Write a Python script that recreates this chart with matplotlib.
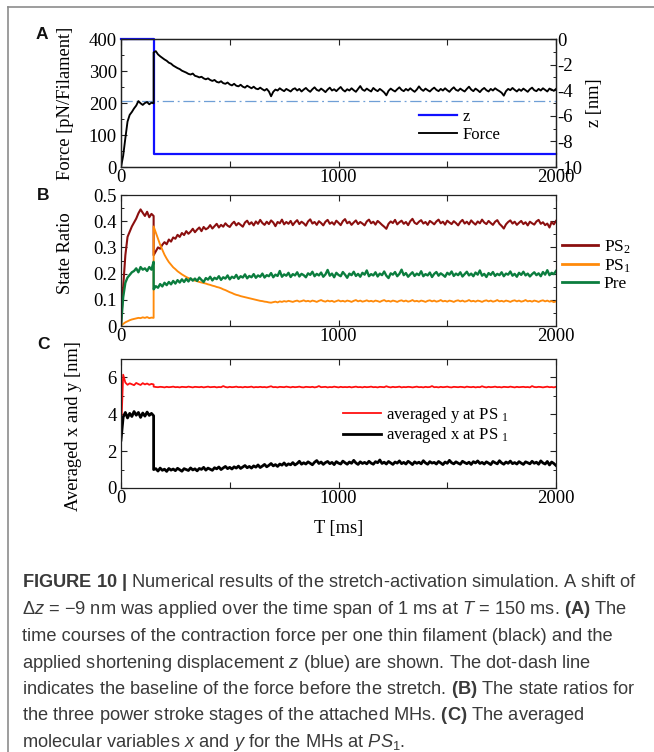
import numpy as np
import matplotlib
matplotlib.use("Agg")
import matplotlib.pyplot as plt
from matplotlib.lines import Line2D

plt.rcParams['font.family'] = ['Liberation Serif', 'DejaVu Serif']
plt.rcParams['axes.unicode_minus'] = False
plt.rcParams['mathtext.fontset'] = 'custom'
plt.rcParams['mathtext.rm'] = 'Liberation Serif'
plt.rcParams['mathtext.it'] = 'Liberation Sans:italic'
plt.rcParams['mathtext.bf'] = 'Liberation Sans:bold'
plt.rcParams['mathtext.sf'] = 'Liberation Sans'

# ---------------- data ----------------
T_PRE = np.arange(0, 151, 10)      # samples before the stretch (ms)
T_POST = np.arange(150, 2001, 10)  # samples after the stretch (ms)

force_pre = [0, 35, 90, 142, 163, 172, 183, 192, 206, 199, 194, 200, 203, 196, 201, 199]
force_post = [358, 362, 352, 346, 341, 336, 332, 326, 323, 317,
              313, 309, 306, 301, 298, 295, 291, 289, 292, 285,
              283, 280, 282, 277, 274, 277, 272, 269, 272, 266,
              264, 268, 262, 260, 264, 258, 255, 260, 254, 252,
              257, 251, 248, 254, 250, 246, 251, 245, 243, 248,
              243, 239, 244, 236, 221, 235, 242, 239, 246, 241,
              237, 244, 240, 236, 243, 246,
              239, 244, 236, 242, 247, 240, 235, 243, 249, 241,
              238, 245, 240, 234, 242, 248, 239, 243, 237, 244,
              250, 241, 236, 243, 239, 246, 240, 235, 244, 253,
              242, 238, 245, 240, 236, 247, 241, 237, 244, 239,
              233, 224, 238, 245, 240, 236, 243, 249, 241, 237,
              244, 239, 246, 240, 235, 242, 252, 243, 238, 245,
              240, 236, 243, 248, 241, 237, 244, 239, 246, 240,
              235, 243, 249, 241, 238, 245, 240, 236, 244, 251,
              242, 237, 245, 240, 234, 242, 247, 240, 236, 244,
              239, 246, 241, 237, 232, 223, 237, 244, 240, 247,
              241, 236, 243, 238, 245, 240, 235, 243, 248, 240,
              237, 244, 239, 246, 241, 236, 245, 242, 238, 244]
force_baseline = 205
z_T = [0, 150, 150, 2000]
z_val = [0, 0, -9, -9]

ps2_pre = [0, 0.15, 0.27, 0.34, 0.36, 0.38, 0.395, 0.41, 0.43, 0.445, 0.432, 0.42, 0.436, 0.415, 0.428, 0.42]
ps2_post = [0.27, 0.285, 0.30, 0.295, 0.31, 0.32, 0.312, 0.33, 0.322, 0.338,
            0.333, 0.348, 0.34, 0.355, 0.347, 0.362, 0.352, 0.36, 0.371, 0.358,
            0.368, 0.376, 0.362, 0.378, 0.369, 0.374, 0.385, 0.372, 0.381, 0.39,
            0.376, 0.386, 0.379, 0.392, 0.383, 0.378, 0.39, 0.398, 0.384, 0.393,
            0.386, 0.379, 0.395, 0.402, 0.388, 0.396, 0.384, 0.399, 0.39, 0.405,
            0.393, 0.386, 0.398, 0.389, 0.403, 0.395, 0.381, 0.397, 0.392, 0.406,
            0.388, 0.397, 0.39, 0.401, 0.385, 0.396, 0.404, 0.389, 0.398, 0.392,
            0.383, 0.399, 0.407, 0.391, 0.397, 0.386, 0.4, 0.393, 0.384, 0.398,
            0.405, 0.39, 0.396, 0.387, 0.402, 0.394, 0.385, 0.4, 0.408, 0.392,
            0.398, 0.386, 0.395, 0.403, 0.389, 0.397, 0.391, 0.384, 0.399, 0.406,
            0.392, 0.398, 0.387, 0.401, 0.394, 0.386, 0.379, 0.371, 0.39, 0.399,
            0.393, 0.405, 0.388, 0.396, 0.402, 0.39, 0.397, 0.385, 0.4, 0.409,
            0.394, 0.389, 0.398, 0.404, 0.391, 0.397, 0.386, 0.401, 0.395, 0.388,
            0.399, 0.406, 0.392, 0.398, 0.387, 0.402, 0.395, 0.389, 0.4, 0.393,
            0.384, 0.397, 0.405, 0.391, 0.398, 0.388, 0.403, 0.394, 0.387, 0.399,
            0.392, 0.406, 0.395, 0.389, 0.401, 0.393, 0.386, 0.398, 0.404, 0.39,
            0.382, 0.372, 0.388, 0.397, 0.403, 0.391, 0.398, 0.386, 0.394, 0.401,
            0.389, 0.396, 0.384, 0.398, 0.392, 0.387, 0.399, 0.405, 0.39, 0.396,
            0.385, 0.391, 0.376, 0.397, 0.388, 0.401]

ps1_pre = [0, 0.008, 0.014, 0.018, 0.022, 0.025, 0.027, 0.029, 0.031, 0.03, 0.033, 0.031, 0.034, 0.03, 0.032, 0.031]
ps1_post = [0.38, 0.357, 0.334, 0.31, 0.291, 0.272, 0.257, 0.244, 0.234, 0.224,
            0.217, 0.209, 0.203, 0.197, 0.192, 0.187, 0.183, 0.179, 0.177, 0.173,
            0.171, 0.168, 0.166, 0.164, 0.162, 0.159, 0.157, 0.154, 0.152, 0.149,
            0.147, 0.144, 0.14, 0.137, 0.133, 0.129, 0.126, 0.122, 0.119, 0.117,
            0.114, 0.112, 0.11, 0.108, 0.106, 0.104, 0.102, 0.1, 0.098, 0.096,
            0.095, 0.093, 0.092, 0.09, 0.089, 0.091, 0.093, 0.09, 0.094, 0.092,
            0.095, 0.093, 0.096, 0.094, 0.092, 0.095, 0.097, 0.093, 0.095, 0.098,
            0.094, 0.096, 0.093, 0.097, 0.095, 0.092, 0.096, 0.099, 0.095, 0.093,
            0.097, 0.094, 0.096, 0.092, 0.095, 0.098, 0.094, 0.096, 0.093, 0.097,
            0.095, 0.092, 0.096, 0.099, 0.094, 0.097, 0.093, 0.095, 0.098, 0.094,
            0.096, 0.093, 0.097, 0.095, 0.092, 0.096, 0.099, 0.094, 0.096, 0.093,
            0.097, 0.095, 0.092, 0.096, 0.098, 0.094, 0.097, 0.093, 0.095, 0.099,
            0.094, 0.096, 0.093, 0.097, 0.095, 0.092, 0.096, 0.098, 0.094, 0.097,
            0.093, 0.095, 0.099, 0.094, 0.096, 0.093, 0.097, 0.095, 0.092, 0.096,
            0.098, 0.094, 0.097, 0.093, 0.095, 0.099, 0.094, 0.096, 0.093, 0.097,
            0.095, 0.092, 0.096, 0.098, 0.094, 0.097, 0.093, 0.095, 0.099, 0.094,
            0.096, 0.093, 0.097, 0.095, 0.092, 0.096, 0.098, 0.094, 0.097, 0.093,
            0.095, 0.099, 0.094, 0.096, 0.093, 0.097, 0.095, 0.092, 0.096, 0.098,
            0.094, 0.097, 0.093, 0.095, 0.091, 0.094]

pre_pre = [0, 0.11, 0.165, 0.185, 0.195, 0.205, 0.21, 0.22, 0.205, 0.225, 0.215, 0.22, 0.21, 0.225, 0.215, 0.245]
pre_post = [0.14, 0.152, 0.146, 0.16, 0.151, 0.165, 0.156, 0.168, 0.159, 0.172,
            0.162, 0.175, 0.166, 0.178, 0.168, 0.18, 0.17, 0.182, 0.173, 0.181,
            0.172, 0.185, 0.176, 0.168, 0.183, 0.177, 0.188, 0.174, 0.184, 0.179,
            0.19, 0.176, 0.186, 0.181, 0.193, 0.178, 0.188, 0.183, 0.195, 0.18,
            0.19, 0.185, 0.197, 0.182, 0.191, 0.186, 0.198, 0.184, 0.193, 0.188,
            0.2, 0.185, 0.194, 0.19, 0.202, 0.186, 0.196, 0.191, 0.21, 0.188,
            0.197, 0.192, 0.203, 0.187, 0.198, 0.193, 0.205, 0.189, 0.199, 0.194,
            0.186, 0.201, 0.195, 0.207, 0.19, 0.199, 0.193, 0.204, 0.188, 0.197,
            0.214, 0.192, 0.2, 0.186, 0.203, 0.195, 0.19, 0.206, 0.196, 0.184,
            0.2, 0.194, 0.207, 0.191, 0.199, 0.188, 0.203, 0.196, 0.212, 0.19,
            0.198, 0.193, 0.205, 0.189, 0.2, 0.194, 0.208, 0.192, 0.183, 0.201,
            0.196, 0.206, 0.19, 0.199, 0.215, 0.194, 0.202, 0.188, 0.197, 0.205,
            0.191, 0.2, 0.194, 0.209, 0.19, 0.198, 0.193, 0.204, 0.187, 0.199,
            0.206, 0.192, 0.201, 0.195, 0.188, 0.203, 0.196, 0.208, 0.191, 0.2,
            0.194, 0.205, 0.189, 0.198, 0.207, 0.193, 0.2, 0.19, 0.204, 0.196,
            0.212, 0.192, 0.199, 0.187, 0.202, 0.195, 0.206, 0.191, 0.199, 0.194,
            0.205, 0.19, 0.2, 0.196, 0.208, 0.192, 0.199, 0.188, 0.203, 0.195,
            0.207, 0.193, 0.2, 0.189, 0.198, 0.205, 0.194, 0.201, 0.19, 0.206,
            0.196, 0.213, 0.194, 0.203, 0.198, 0.21]

y_pre = [2.9, 6.15, 5.72, 5.6, 5.68, 5.63, 5.58, 5.7, 5.64, 5.59, 5.69, 5.62, 5.67, 5.6, 5.65, 5.62]
y_post = [5.5, 5.48, 5.47, 5.49, 5.48, 5.46, 5.49, 5.47, 5.48, 5.5,
          5.47, 5.48, 5.46, 5.49, 5.48, 5.47, 5.5, 5.48, 5.46, 5.49,
          5.48, 5.47, 5.49, 5.46, 5.48, 5.5, 5.47, 5.48, 5.49, 5.46,
          5.48, 5.47, 5.53, 5.48, 5.46, 5.49, 5.47, 5.48, 5.5, 5.47,
          5.48, 5.46, 5.49, 5.47, 5.48, 5.5, 5.46, 5.48, 5.47, 5.49,
          5.47, 5.48, 5.46, 5.49, 5.52, 5.47, 5.48, 5.46, 5.49, 5.48,
          5.47, 5.5, 5.48, 5.46, 5.49, 5.47, 5.48, 5.5, 5.47, 5.46,
          5.49, 5.48, 5.47, 5.49, 5.46, 5.48, 5.53, 5.47, 5.48, 5.49,
          5.46, 5.48, 5.47, 5.5, 5.48, 5.46, 5.49, 5.47, 5.48, 5.47,
          5.49, 5.46, 5.48, 5.5, 5.47, 5.48, 5.46, 5.49, 5.47, 5.48,
          5.5, 5.47, 5.48, 5.46, 5.49, 5.48, 5.47, 5.52, 5.48, 5.46,
          5.49, 5.47, 5.48, 5.5, 5.46, 5.48, 5.47, 5.49, 5.48, 5.46,
          5.48, 5.5, 5.47, 5.48, 5.46, 5.49, 5.47, 5.48, 5.53, 5.47,
          5.48, 5.46, 5.49, 5.47, 5.48, 5.5, 5.47, 5.46, 5.49, 5.48,
          5.47, 5.49, 5.48, 5.46, 5.5, 5.48, 5.47, 5.49, 5.46, 5.48,
          5.47, 5.52, 5.48, 5.46, 5.49, 5.47, 5.48, 5.5, 5.47, 5.48,
          5.46, 5.49, 5.48, 5.47, 5.5, 5.48, 5.46, 5.49, 5.47, 5.48,
          5.49, 5.47, 5.48, 5.46, 5.53, 5.48, 5.47, 5.49, 5.48, 5.46,
          5.48, 5.5, 5.47, 5.48, 5.46, 5.49]

x_pre = [2.6, 3.85, 4.1, 3.8, 4.05, 3.88, 4.15, 3.95, 4.1, 3.83, 4.07, 3.9, 4.12, 3.94, 4.05, 3.92]
x_post = [1.0, 1.05, 0.92, 1.08, 0.96, 1.02, 0.9, 1.06, 0.97, 1.03,
          0.94, 1.07, 0.99, 0.91, 1.05, 1.0, 0.95, 1.09, 0.98, 1.04,
          0.93, 1.06, 1.01, 1.12, 0.97, 1.08, 1.02, 0.96, 1.1, 1.04,
          1.14, 1.0, 1.09, 1.17, 1.05, 1.12, 1.03, 1.15, 1.08, 1.19,
          1.06, 1.14, 1.22, 1.1, 1.17, 1.08, 1.2, 1.13, 1.25, 1.11,
          1.19, 1.28, 1.15, 1.23, 1.33, 1.2, 1.27, 1.17, 1.3, 1.24,
          1.36, 1.22, 1.31, 1.26, 1.38, 1.25, 1.33, 1.45, 1.29, 1.37,
          1.3, 1.42, 1.34, 1.26, 1.4, 1.49, 1.33, 1.41, 1.28, 1.38,
          1.44, 1.32, 1.39, 1.27, 1.43, 1.35, 1.3, 1.46, 1.37, 1.29,
          1.41, 1.34, 1.5, 1.36, 1.28, 1.42, 1.33, 1.39, 1.31, 1.45,
          1.35, 1.29, 1.43, 1.37, 1.52, 1.33, 1.4, 1.3, 1.44, 1.36,
          1.28, 1.41, 1.35, 1.47, 1.32, 1.39, 1.3, 1.45, 1.37, 1.27,
          1.42, 1.34, 1.4, 1.31, 1.48, 1.36, 1.29, 1.43, 1.35, 1.39,
          1.3, 1.44, 1.36, 1.27, 1.41, 1.34, 1.5, 1.37, 1.31, 1.42,
          1.35, 1.29, 1.45, 1.38, 1.32, 1.4, 1.28, 1.43, 1.36, 1.47,
          1.33, 1.39, 1.3, 1.42, 1.35, 1.27, 1.44, 1.37, 1.31, 1.48,
          1.36, 1.29, 1.41, 1.34, 1.46, 1.32, 1.38, 1.3, 1.43, 1.35,
          1.28, 1.42, 1.37, 1.31, 1.45, 1.34, 1.4, 1.29, 1.47, 1.36,
          1.3, 1.44, 1.25, 1.41, 1.33, 1.22]

x_ticks = [0, 500, 1000, 1500, 2000]
x_ticklabels = ['0', '', '1000', '', '2000']

T = np.concatenate([T_PRE, T_POST])
def join(a, b):
    return np.concatenate([np.asarray(a, float), np.asarray(b, float)])

force = join(force_pre, force_post)
ps2 = join(ps2_pre, ps2_post)
ps1 = join(ps1_pre, ps1_post)
pre = join(pre_pre, pre_post)
yavg = join(y_pre, y_post)
xavg = join(x_pre, x_post)

# ---------------- figure ----------------
W, H = 654, 752
fig = plt.figure(figsize=(W / 100, H / 100), dpi=100)
fig.patch.set_facecolor('white')

def rect(l, t, r, b):
    return [l / W, 1 - b / H, (r - l) / W, (b - t) / H]

axA = fig.add_axes(rect(121, 39, 556, 167))
axB = fig.add_axes(rect(121, 195, 556, 326))
axC = fig.add_axes(rect(121, 359, 556, 488))

TICK_FS = 13.5
LABEL_FS = 13.3
SPINE_C = '#222222'

def style(ax, right=True):
    for s in ax.spines.values():
        s.set_color(SPINE_C)
        s.set_linewidth(0.9)
    ax.set_xlim(0, 2000)
    ax.set_xticks(x_ticks, x_ticklabels)
    ax.tick_params(axis='x', which='both', direction='in', top=True, bottom=True,
                   length=4, width=0.8, labelsize=TICK_FS, pad=1.5, color=SPINE_C)
    ax.tick_params(axis='y', which='major', direction='in', left=True, right=right,
                   length=4, width=0.8, labelsize=TICK_FS, pad=3, color=SPINE_C)
    ax.tick_params(axis='y', which='minor', direction='in', left=True, right=right,
                   length=2.5, width=0.7, color=SPINE_C)

# ---- Panel A ----
axZ = axA.twinx()
style(axA, right=False)
lz, = axZ.plot(z_T, z_val, color='#1010ff', lw=1.6, clip_on=False)
axZ.set_ylim(-10, 0)
axZ.set_yticks([0, -2, -4, -6, -8, -10])
axZ.set_yticks([-1, -3, -5, -7, -9], minor=True)
axZ.tick_params(axis='y', which='major', direction='in', length=4, width=0.8,
                labelsize=TICK_FS, pad=0.8, color=SPINE_C)
axZ.tick_params(axis='y', which='minor', direction='in', length=2.5, width=0.7, color=SPINE_C)
for s in axZ.spines.values():
    s.set_color(SPINE_C)
    s.set_linewidth(0.9)
axA.set_zorder(axZ.get_zorder() + 1)
axA.patch.set_visible(False)

axA.axhline(force_baseline, color='#6f9fd6', lw=0.9, dashes=(9, 3, 1.5, 3))
lf, = axA.plot(T, force, color='black', lw=1.35)
axA.set_ylim(0, 400)
axA.set_yticks([0, 100, 200, 300, 400])
axA.set_yticks([50, 150, 250, 350], minor=True)
axA.set_ylabel('Force [pN/Filament]', fontsize=LABEL_FS)
axA.yaxis.set_label_coords((66 - 121) / 435, 0.5)
axA.yaxis.label.set_va('center')
axZ.set_ylabel('z [nm]', fontsize=LABEL_FS, rotation=90)
axZ.yaxis.set_label_coords((595 - 121) / 435, 0.5)
axZ.yaxis.label.set_va('center')

axA.legend([lz, lf], ['z', 'Force'], loc='center left',
           bbox_to_anchor=(419 / W, 1 - 126 / H), bbox_transform=fig.transFigure,
           frameon=False, fontsize=12, handlelength=2.3, handletextpad=0.3,
           labelspacing=0.15, borderpad=0, borderaxespad=0)

# ---- Panel B ----
style(axB)
l2, = axB.plot(T, ps2, color='#8b0f0f', lw=1.5)
l1, = axB.plot(T, ps1, color='#ff8a0a', lw=1.35)
l0, = axB.plot(T, pre, color='#0b7d3e', lw=1.7)
axB.set_ylim(0, 0.5)
axB.set_yticks([0, 0.1, 0.2, 0.3, 0.4, 0.5], ['0', '0.1', '0.2', '0.3', '0.4', '0.5'])
axB.set_yticks([0.05, 0.15, 0.25, 0.35, 0.45], minor=True)
axB.set_ylabel('State Ratio', fontsize=LABEL_FS)
axB.yaxis.set_label_coords((66 - 121) / 435, (326 - 253) / 131)
axB.yaxis.label.set_va('center')
hB = [Line2D([], [], color=c, lw=2) for c in ('#8b0f0f', '#ff8a0a', '#0b7d3e')]
axB.legend(hB, [r'PS$_\mathrm{2}$', r'PS$_\mathrm{1}$', 'Pre'], loc='center left',
           bbox_to_anchor=(562 / W, 1 - 265 / H), bbox_transform=fig.transFigure,
           frameon=False, fontsize=12.5, handlelength=2.1, handletextpad=0.3,
           labelspacing=0.05, borderpad=0, borderaxespad=0)

# ---- Panel C ----
style(axC)
ly, = axC.plot(T, yavg, color='#ff1010', lw=1.3)
lx, = axC.plot(T, xavg, color='black', lw=2.0)
axC.set_ylim(0, 7)
axC.set_yticks([0, 2, 4, 6])
axC.set_yticks([1, 3, 5, 7], minor=True)
axC.set_ylabel('Averaged x and y [nm]', fontsize=LABEL_FS)
axC.yaxis.set_label_coords((74 - 121) / 435, (488 - 426) / 129)
axC.yaxis.label.set_va('center')
axC.set_xlabel('T [ms]', fontsize=LABEL_FS)
axC.xaxis.set_label_coords(0.5, (488 - 529) / 129)
axC.xaxis.label.set_va('center')
axC.legend([ly, lx], [r'averaged y at PS $_\mathrm{1}$', r'averaged x at PS $_\mathrm{1}$'],
           loc='center left', bbox_to_anchor=(343 / W, 1 - 425 / H),
           bbox_transform=fig.transFigure, frameon=False, fontsize=12,
           handlelength=2.3, handletextpad=0.3, labelspacing=0.05,
           borderpad=0, borderaxespad=0)

# ---- panel letters ----
for letter, x, yb in (('A', 36, 39), ('B', 37, 200.5), ('C', 37, 348.5)):
    fig.text(x / W, 1 - yb / H, letter, family='Liberation Sans', weight='bold',
             fontsize=12.5, va='baseline', ha='left', color='#111111')

# ---- border ----
fig.add_artist(Line2D([8 / W, 1.0], [1 - 6.5 / H, 1 - 6.5 / H], color='#8c8c8c', lw=1.2))
fig.add_artist(Line2D([8 / W, 8 / W], [1 - 6.5 / H, 0.0], color='#8c8c8c', lw=1.2))

# ---- caption ----
cap_lines = [
    r"$\mathbf{FIGURE\ 10\ |}$ Numerical results of the stretch-activation simulation. A shift of",
    r"Δ$z$ = −9 nm was applied over the time span of 1 ms at $T$ = 150 ms. $\mathbf{(A)}$ The",
    r"time courses of the contraction force per one thin filament (black) and the",
    r"applied shortening displacement $z$ (blue) are shown. The dot-dash line",
    r"indicates the baseline of the force before the stretch. $\mathbf{(B)}$ The state ratios for",
    r"the three power stroke stages of the attached MHs. $\mathbf{(C)}$ The averaged",
    r"molecular variables $x$ and $y$ for the MHs at $PS_\mathsf{1}$.",
]
cap_base = [587, 614, 641, 668, 694, 720, 747]
fs0 = 11.5
cap_texts = []
for s, yb in zip(cap_lines, cap_base):
    cap_texts.append(fig.text(22 / W, 1 - yb / H, s, family='Liberation Sans',
                              fontsize=fs0, color='#3a3a3a', va='baseline', ha='left'))
fig.canvas.draw()
r = fig.canvas.get_renderer()
w = cap_texts[0].get_window_extent(r).width
scale = 617.0 / w
for t in cap_texts:
    t.set_fontsize(fs0 * scale)

fig.savefig('out.png', dpi=100, facecolor='white')
